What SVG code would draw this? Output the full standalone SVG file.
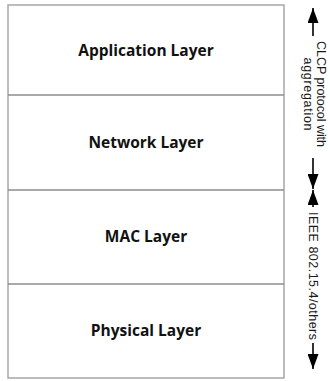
<svg xmlns="http://www.w3.org/2000/svg" width="330" height="381" viewBox="0 0 330 381">
<defs>
<marker id="ah" markerUnits="userSpaceOnUse" markerWidth="15" markerHeight="11" viewBox="0 0 15 11" refX="15" refY="5.5" orient="auto">
<path d="M0,0 L15,5.5 L0,11 Z" fill="#000"/>
</marker>
<style>
.frame{fill:#fff;stroke:#a6a6a6;stroke-width:1.5}
.div{stroke:#8c8c8c;stroke-width:1.5}
.lbl{font-family:"Open Sans","Liberation Sans",sans-serif;font-weight:bold;font-size:15.5px;fill:#111;text-anchor:middle}
.side{font-family:"Liberation Sans",Arial,sans-serif;font-size:12.5px;fill:#1a1a1a;text-anchor:middle}
.conn{stroke:#000;stroke-width:1.6;fill:none;marker-end:url(#ah)}
</style>
</defs>
<rect width="330" height="381" fill="#fff"/>
<rect class="frame" x="8" y="5" width="276" height="373"/>
<g id="application-layer"><text class="lbl" x="146" y="56">Application Layer</text></g>
<line class="div" x1="8" y1="95" x2="284" y2="95"/>
<g id="network-layer"><text class="lbl" x="146" y="148">Network Layer</text></g>
<line class="div" x1="8" y1="190" x2="284" y2="190"/>
<g id="mac-layer"><text class="lbl" x="146" y="242">MAC Layer</text></g>
<line class="div" x1="8" y1="284" x2="284" y2="284"/>
<g id="physical-layer"><text class="lbl" x="146" y="336">Physical Layer</text></g>
<g id="clcp-label"><text class="side" transform="translate(313,94) rotate(90)"><tspan x="0" y="-4" textLength="106">CLCP protocol with</tspan><tspan x="0" y="9" textLength="73">aggregation</tspan></text></g>
<g id="ieee-label"><text class="side" transform="translate(313,276) rotate(90)" y="4.5" textLength="128">IEEE 802.15.4/others</text></g>
<g id="connectors">
<line class="conn" x1="313" y1="36" x2="313" y2="8"/>
<line class="conn" x1="313" y1="158" x2="313" y2="189"/>
<line class="conn" x1="313" y1="207" x2="313" y2="190"/>
<line class="conn" x1="313" y1="343" x2="313" y2="369"/>
</g>
</svg>
